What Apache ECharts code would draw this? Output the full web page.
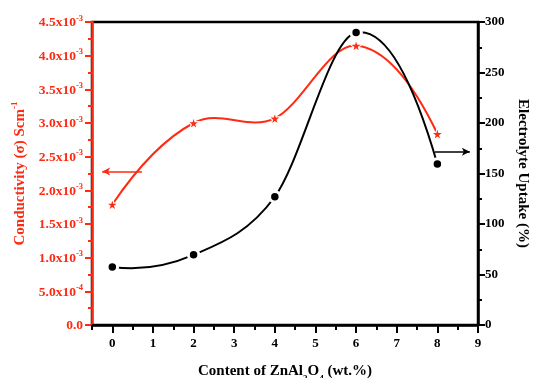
<!DOCTYPE html>
<html><head><meta charset="utf-8">
<script src="https://cdn.jsdelivr.net/npm/echarts@6/dist/echarts.min.js"></script>
<style>html,body{margin:0;padding:0;background:#fff}#c{width:536px;height:378px}</style>
</head><body><div id="c"></div>
<script>
// ---- data ----
const contentX = [0, 2, 4, 6, 8];
const conductivity = [1.79e-3, 3.0e-3, 3.07e-3, 4.15e-3, 2.84e-3];
const uptake = [57.5, 69.5, 127, 289.5, 159.5];
const xTickLabels = ['0', '1', '2', '3', '4', '5', '6', '7', '8', '9'];
const xMinorTicks = [-0.5, 0.5, 1.5, 2.5, 3.5, 4.5, 5.5, 6.5, 7.5, 8.5];
const leftTickMantissa = ['0.0', '5.0', '1.0', '1.5', '2.0', '2.5', '3.0', '3.5', '4.0', '4.5'];
const leftTickExponent = ['', '-4', '-3', '-3', '-3', '-3', '-3', '-3', '-3', '-3'];
const rightTickLabels = ['0', '50', '100', '150', '200', '250', '300'];
const redArrow = [[0.73, 2.28e-3], [-0.25, 2.28e-3]];
const blackArrow = [[7.94, 171.5], [8.8, 171.5]];

const RED = '#ff2a12';
const FONT = 'Liberation Serif';
const star = 'path://M50,0 L61,35 L98,35 L68,57 L79,91 L50,70 L21,91 L32,57 L2,35 L39,35 Z';

// smooth cubic curve through the data points, mapped by the axes (api.coord)
function curveRenderer(vals, color) {
  return function (params, api) {
    if (params.dataIndex !== 0) return null;
    const p = contentX.map((x, i) => api.coord([x, vals[i]]));
    const n = p.length;
    const m = [];
    for (let i = 0; i < n; i++) {
      if (i === 0) m.push((-3 * p[0][1] + 4 * p[1][1] - p[2][1]) / (p[2][0] - p[0][0]));
      else if (i === n - 1) m.push((3 * p[n - 1][1] - 4 * p[n - 2][1] + p[n - 3][1]) / (p[n - 1][0] - p[n - 3][0]));
      else m.push((p[i + 1][1] - p[i - 1][1]) / (p[i + 1][0] - p[i - 1][0]));
    }
    let d = 'M' + p[0][0] + ',' + p[0][1];
    for (let i = 0; i < n - 1; i++) {
      const h = p[i + 1][0] - p[i][0];
      d += ' C' + (p[i][0] + h / 3) + ',' + (p[i][1] + m[i] * h / 3) + ' ' +
        (p[i + 1][0] - h / 3) + ',' + (p[i + 1][1] - m[i + 1] * h / 3) + ' ' +
        p[i + 1][0] + ',' + p[i + 1][1];
    }
    return {type: 'path', shape: {pathData: d}, style: {fill: 'none', stroke: color, lineWidth: 2}};
  };
}

const chart = echarts.init(document.getElementById('c'), null, {renderer: 'canvas'});
chart.setOption({
  backgroundColor: '#fff',
  animation: false,
  grid: {left: 92, right: 58, top: 22, bottom: 53, show: true, borderColor: '#000', borderWidth: 2.5,
    backgroundColor: 'transparent', containLabel: false, outerBoundsMode: 'none'},
  xAxis: [{
    type: 'value', min: -0.5, max: 9, position: 'bottom',
    axisLine: {onZero: false, lineStyle: {color: '#000', width: 2.5}},
    axisTick: {show: true, inside: false, length: 8, lineStyle: {width: 2, color: '#000'}, customValues: xTickLabels.map(Number)},
    axisLabel: {customValues: xTickLabels.map(Number), formatter: v => xTickLabels[Math.round(v)], margin: 12,
      color: '#000', fontFamily: FONT, fontWeight: 'bold', fontSize: 13},
    splitLine: {show: false},
    name: '{b|Content of ZnAl}{s|2}{b|O}{s|4}{b| (wt.%)}',
    nameLocation: 'middle', nameGap: 36,
    nameTextStyle: {rich: {
      b: {fontFamily: FONT, fontWeight: 'bold', fontSize: 15, color: '#000', lineHeight: 18, verticalAlign: 'bottom'},
      s: {fontFamily: FONT, fontWeight: 'bold', fontSize: 9, color: '#000', lineHeight: 18, verticalAlign: 'bottom', padding: [0, 0, -4, 0]}
    }}
  }, {
    type: 'value', min: -0.5, max: 9, position: 'bottom',
    axisLine: {show: false, onZero: false},
    axisTick: {show: true, inside: false, length: 5, lineStyle: {width: 2, color: '#000'}, customValues: xMinorTicks},
    axisLabel: {show: false},
    splitLine: {show: false}
  }],
  yAxis: [{
    type: 'value', min: 0, max: 0.0045, interval: 0.0005, position: 'left',
    axisLine: {show: true, onZero: false, lineStyle: {color: RED, width: 2.5}},
    axisTick: {show: true, inside: false, length: 7, lineStyle: {width: 2, color: RED}},
    minorTick: {show: true, splitNumber: 2, length: 4, lineStyle: {width: 2, color: RED}},
    splitLine: {show: false},
    axisLabel: {
      margin: 9,
      formatter: v => {
        const i = Math.round(v / 0.0005);
        return leftTickExponent[i] ? '{m|' + leftTickMantissa[i] + 'x10}{e|' + leftTickExponent[i] + '}' : '{m|' + leftTickMantissa[i] + '}';
      },
      rich: {
        m: {fontFamily: FONT, fontWeight: 'bold', fontSize: 13.5, color: RED, lineHeight: 16, verticalAlign: 'bottom'},
        e: {fontFamily: FONT, fontWeight: 'bold', fontSize: 8.5, color: RED, lineHeight: 16, verticalAlign: 'top', padding: [0, 0, 6, 0]}
      }
    },
    name: '{a|Conductivity (σ) Scm}{e|-1}',
    nameLocation: 'middle', nameGap: 62,
    nameTextStyle: {rich: {
      a: {fontFamily: FONT, fontWeight: 'bold', fontSize: 15, color: RED, lineHeight: 18, verticalAlign: 'bottom'},
      e: {fontFamily: FONT, fontWeight: 'bold', fontSize: 9, color: RED, lineHeight: 18, verticalAlign: 'top', padding: [0, 0, 8, 0]}
    }}
  }, {
    type: 'value', min: 0, max: 300, interval: 50, position: 'right',
    axisLine: {show: true, onZero: false, lineStyle: {color: '#000', width: 2.5}},
    axisTick: {show: true, inside: false, length: 7, lineStyle: {width: 2, color: '#000'}},
    minorTick: {show: true, splitNumber: 2, length: 4, lineStyle: {width: 2, color: '#000'}},
    splitLine: {show: false},
    axisLabel: {margin: 7, color: '#000', fontFamily: FONT, fontWeight: 'bold', fontSize: 13,
      formatter: v => rightTickLabels[Math.round(v / 50)]},
    name: 'Electrolyte Uptake (%)',
    nameLocation: 'middle', nameGap: 37, nameRotate: -90,
    nameTextStyle: {fontFamily: FONT, fontWeight: 'bold', fontSize: 15, color: '#000'}
  }],
  series: [{
    type: 'custom', xAxisIndex: 0, yAxisIndex: 0, z: 2,
    data: contentX.map((x, i) => [x, conductivity[i]]),
    encode: {x: 0, y: 1},
    renderItem: curveRenderer(conductivity, RED)
  }, {
    type: 'custom', xAxisIndex: 0, yAxisIndex: 1, z: 3,
    data: contentX.map((x, i) => [x, uptake[i]]),
    encode: {x: 0, y: 1},
    renderItem: curveRenderer(uptake, '#000')
  }, {
    type: 'scatter', xAxisIndex: 0, yAxisIndex: 0, z: 4,
    data: contentX.map((x, i) => [x, conductivity[i]]),
    symbol: star, symbolSize: 12.5,
    itemStyle: {color: RED, borderColor: '#fff', borderWidth: 1.2, opacity: 1},
    markLine: {
      silent: true, symbol: ['none', 'arrow'], symbolSize: [6, 8],
      lineStyle: {color: RED, width: 1.5, type: 'solid'}, label: {show: false},
      data: [[{coord: redArrow[0]}, {coord: redArrow[1]}]]
    }
  }, {
    type: 'scatter', xAxisIndex: 0, yAxisIndex: 1, z: 5,
    data: contentX.map((x, i) => [x, uptake[i]]),
    symbol: 'circle', symbolSize: 10.5,
    itemStyle: {color: '#000', borderColor: '#fff', borderWidth: 3, opacity: 1},
    markLine: {
      silent: true, symbol: ['none', 'arrow'], symbolSize: [6, 8],
      lineStyle: {color: '#000', width: 1.5, type: 'solid'}, label: {show: false},
      data: [[{coord: blackArrow[0]}, {coord: blackArrow[1]}]]
    }
  }]
});
</script>
</body></html>
